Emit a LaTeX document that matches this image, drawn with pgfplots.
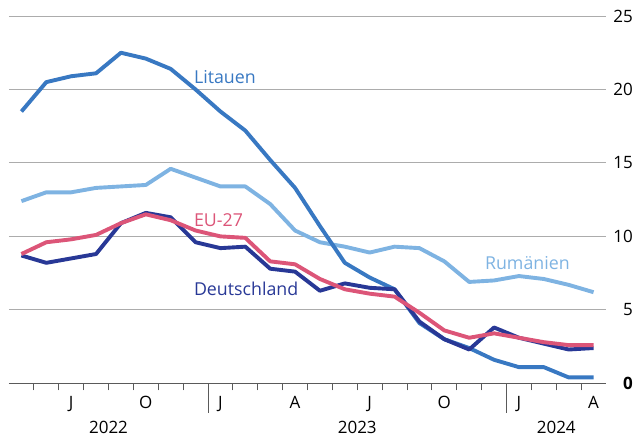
\documentclass[border=0pt]{standalone}
\usepackage{fontspec}
\setmainfont{Open Sans}
\usepackage{pgfplots}
\pgfplotsset{compat=1.18}
\definecolor{cLT}{RGB}{56,120,194}
\definecolor{cRO}{RGB}{126,179,226}
\definecolor{cEU}{RGB}{220,85,120}
\definecolor{cDE}{RGB}{40,56,150}
\definecolor{cGrid}{RGB}{172,172,172}
\definecolor{cAx}{RGB}{90,90,90}
\begin{document}
\begin{tikzpicture}
\path[use as bounding box] (-9pt,-53.7pt) rectangle (627pt,383.3pt);
\begin{axis}[
  at={(0pt,0pt)}, anchor=south west,
  width=597pt, height=367.3pt, scale only axis,
  xmin=-0.5, xmax=23.5, ymin=0, ymax=25,
  clip=false,
  font=\fontsize{17}{20}\selectfont,
  /pgf/number format/assume math mode=true,
  axis x line*=bottom,
  axis y line*=right,
  y axis line style={draw=none},
  x axis line style={line width=1.6pt, cAx},
  xtick={0.5,1.5,...,22.5},
  xticklabels={},
  tick align=outside,
  major tick length=7pt,
  xtick style={line width=1pt, cAx},
  extra x ticks={2,5,8,11,14,17,20,23},
  extra x tick labels={J,O,J,A,J,O,J,A},
  extra x tick style={major tick length=0pt},
  xticklabel style={anchor=base, yshift=-25pt},
  ytick={0,5,10,15,20,25},
  yticklabels={\textbf{0},5,10,15,20,25},
  ytick style={draw=none},
  yticklabel style={anchor=east, inner sep=0pt, xshift=20pt},
  ymajorgrids,
  grid style={line width=1pt, cGrid},
  every axis plot/.append style={line width=3.9pt, line join=round, no markers},
]
% months: May 2022 (0) ... Apr 2024 (23)
\addplot[cRO] coordinates {
(0,12.4)(1,13.0)(2,13.0)(3,13.3)(4,13.4)(5,13.5)(6,14.6)(7,14.0)
(8,13.4)(9,13.4)(10,12.2)(11,10.4)(12,9.6)(13,9.3)(14,8.9)(15,9.3)
(16,9.2)(17,8.3)(18,6.9)(19,7.0)(20,7.3)(21,7.1)(22,6.7)(23,6.2)};
\addplot[cLT] coordinates {
(0,18.5)(1,20.5)(2,20.9)(3,21.1)(4,22.5)(5,22.1)(6,21.4)(7,20.0)
(8,18.5)(9,17.2)(10,15.2)(11,13.3)(12,10.7)(13,8.2)(14,7.2)(15,6.4)
(16,4.1)(17,3.0)(18,2.4)(19,1.6)(20,1.1)(21,1.1)(22,0.4)(23,0.4)};
\addplot[cDE] coordinates {
(0,8.7)(1,8.2)(2,8.5)(3,8.8)(4,10.9)(5,11.6)(6,11.3)(7,9.6)
(8,9.2)(9,9.3)(10,7.8)(11,7.6)(12,6.3)(13,6.8)(14,6.5)(15,6.4)
(16,4.2)(17,3.0)(18,2.3)(19,3.8)(20,3.1)(21,2.7)(22,2.3)(23,2.4)};
\addplot[cEU] coordinates {
(0,8.8)(1,9.6)(2,9.8)(3,10.1)(4,10.9)(5,11.5)(6,11.1)(7,10.4)
(8,10.0)(9,9.9)(10,8.3)(11,8.1)(12,7.1)(13,6.4)(14,6.1)(15,5.9)
(16,4.8)(17,3.6)(18,3.1)(19,3.4)(20,3.1)(21,2.8)(22,2.6)(23,2.6)};
% year separators
\draw[cAx, line width=1pt] (axis cs:7.5,0) -- ++(0pt,-30pt);
\draw[cAx, line width=1pt] (axis cs:19.5,0) -- ++(0pt,-30pt);
% year labels
\node[anchor=base] at (axis cs:3.5,0) [yshift=-49.7pt] {2022};
\node[anchor=base] at (axis cs:13.5,0) [yshift=-49.7pt] {2023};
\node[anchor=base] at (axis cs:21.5,0) [yshift=-49.7pt] {2024};
% series labels
\begin{scope}[every node/.style={anchor=base west, inner sep=0pt, font=\fontsize{17.8}{20}\selectfont}]
\node[text=cLT] at (axis cs:6.93,20.43) {Litauen};
\node[text=cEU] at (axis cs:6.93,10.7) {EU-27};
\node[text=cDE] at (axis cs:6.93,5.96) {Deutschland};
\node[text=cRO] at (axis cs:18.63,7.76) {Rumänien};
\end{scope}
\end{axis}
\end{tikzpicture}
\end{document}
